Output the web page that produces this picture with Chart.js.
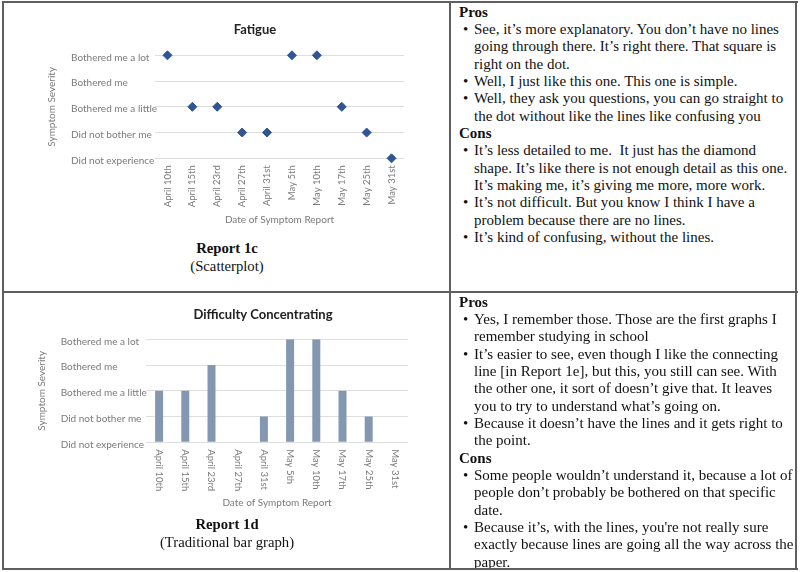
<!DOCTYPE html>
<html lang="en">
<head>
    <meta charset="UTF-8">
    <script src="https://cdn.jsdelivr.net/npm/chart.js@4.4.1/dist/chart.umd.min.js"></script>
    <title>Report 1c and 1d</title>
    <style>
        body { margin: 0; background: #fff; }
        #page { position: relative; width: 800px; height: 572px; overflow: hidden; font-family: 'Liberation Serif', 'Times New Roman', serif; color: #111; }
        .line { position: absolute; background: #5f5f5f; }
        canvas { position: absolute; left: 0; }
        .caption { position: absolute; left: 0; width: 454px; text-align: center; font-size: 14.7px; line-height: 18.5px; }
        .caption b { display: block; }
        .cell { position: absolute; left: 450px; font-size: 15px; line-height: 17.35px; white-space: pre; }
        .hd { font-weight: bold; padding-left: 9px; }
        .li { position: relative; padding-left: 24px; }
        .li::before { content: '\2022'; position: absolute; left: 13px; }
    </style>
</head>
<body>
<div id="page">
    <canvas id="fatigue" width="449" height="235" style="top:0"></canvas>
    <canvas id="concentrating" width="449" height="225" style="top:292px"></canvas>

    <div class="caption" style="top:238.5px"><b>Report 1c</b>(Scatterplot)</div>
    <div class="caption" style="top:514.5px"><b>Report 1d</b>(Traditional bar graph)</div>

    <div class="cell" style="top:3.6px"><div class="hd">Pros</div><div class="li">See, it’s more explanatory. You don’t have no lines
going through there. It’s right there. That square is
right on the dot.</div><div class="li">Well, I just like this one. This one is simple.</div><div class="li">Well, they ask you questions, you can go straight to
the dot without like the lines like confusing you</div><div class="hd">Cons</div><div class="li">It’s less detailed to me.  It just has the diamond
shape. It’s like there is not enough detail as this one.
It’s making me, it’s giving me more, more work.</div><div class="li">It’s not difficult. But you know I think I have a
problem because there are no lines.</div><div class="li">It’s kind of confusing, without the lines.</div></div>

    <div class="cell" style="top:293.6px"><div class="hd">Pros</div><div class="li">Yes, I remember those. Those are the first graphs I
remember studying in school</div><div class="li">It’s easier to see, even though I like the connecting
line [in Report 1e], but this, you still can see. With
the other one, it sort of doesn’t give that. It leaves
you to try to understand what’s going on.</div><div class="li">Because it doesn’t have the lines and it gets right to
the point.</div><div class="hd">Cons</div><div class="li">Some people wouldn’t understand it, because a lot of
people don’t probably be bothered on that specific
date.</div><div class="li">Because it’s, with the lines, you're not really sure
exactly because lines are going all the way across the
paper.</div></div>

    <div class="line" style="left:2px; top:1px; width:796px; height:2px"></div>
    <div class="line" style="left:2px; top:568px; width:796px; height:2px"></div>
    <div class="line" style="left:2px; top:1px; width:2px; height:569px"></div>
    <div class="line" style="left:795px; top:1px; width:2px; height:569px"></div>
    <div class="line" style="left:449px; top:1px; width:2px; height:569px"></div>
    <div class="line" style="left:2px; top:291px; width:796px; height:2px"></div>
</div>

<script>
    const dates = ['April 10th', 'April 15th', 'April 23rd', 'April 27th', 'April 31st',
                   'May 5th', 'May 10th', 'May 17th', 'May 25th', 'May 31st'];
    const severity = ['Did not experience', 'Did not bother me', 'Bothered me a little',
                      'Bothered me', 'Bothered me a lot'];
    const fatigue = [4, 2, 2, 1, 1, 4, 4, 2, 1, 0];
    const concentrating = [2, 2, 3, 0, 1, 4, 4, 2, 1, 0];

    const gray = '#7a7a7a';
    Chart.defaults.font.family = 'Lato';
    Chart.defaults.font.size = 10;
    Chart.defaults.color = gray;

    // y axis shared by both charts; labels are mirrored and pulled left so they stay left-aligned
    function severityAxis(width, labelShift, titleShift) {
        return {
            min: 0,
            max: 4,
            border: { display: false },
            grid: { color: '#dedede', drawTicks: false },
            ticks: {
                stepSize: 1,
                mirror: true,
                crossAlign: 'near',
                padding: labelShift,
                labelOffset: 2,
                callback: v => severity[v]
            },
            title: { display: true, text: 'Symptom Severity', padding: { top: titleShift, bottom: 0 } },
            afterFit: axis => { axis.width = width; }
        };
    }

    function chartTitle(text, top, bottom) {
        return {
            display: true,
            text: text,
            color: '#222',
            font: { size: 13, weight: 'bold' },
            padding: { top: top, bottom: bottom }
        };
    }

    new Chart(document.getElementById('fatigue'), {
        type: 'line',
        data: {
            labels: dates,
            datasets: [{
                data: fatigue,
                showLine: false,
                clip: false,
                pointStyle: 'rectRot',
                pointRadius: 4.5,
                pointHoverRadius: 4.5,
                backgroundColor: '#2f5597',
                borderColor: '#2f5597'
            }]
        },
        options: {
            responsive: false,
            animation: false,
            layout: { padding: { left: 106, right: 45, top: 0, bottom: 0 } },
            plugins: {
                legend: { display: false },
                tooltip: { enabled: false },
                title: chartTitle('Fatigue', 22, 17.7)
            },
            scales: {
                x: {
                    offset: true,
                    border: { display: false },
                    grid: { display: false, drawTicks: false },
                    ticks: { minRotation: 90, maxRotation: 90, padding: 7, autoSkip: false, font: { size: 9.5 } },
                    title: { display: true, text: 'Date of Symptom Report', padding: { top: 0, bottom: 9 } },
                    afterFit: axis => { axis.height = 76.7; }
                },
                y: severityAxis(49, -84, -60)
            }
        }
    });

    // Excel turned these labels the other way (reading downwards), Chart.js only rotates upwards
    const downwardTicks = {
        id: 'downwardTicks',
        afterDraw(chart) {
            const xs = chart.scales.x;
            const ctx = chart.ctx;
            ctx.save();
            ctx.font = '9.5px Lato';
            ctx.fillStyle = gray;
            ctx.textAlign = 'left';
            ctx.textBaseline = 'middle';
            xs.ticks.forEach((t, i) => {
                ctx.save();
                ctx.translate(xs.getPixelForTick(i), xs.top + 7);
                ctx.rotate(Math.PI / 2);
                ctx.fillText(xs.getLabelForValue(t.value), 0, 0);
                ctx.restore();
            });
            ctx.restore();
        }
    };

    new Chart(document.getElementById('concentrating'), {
        type: 'bar',
        data: {
            labels: dates,
            datasets: [{
                data: concentrating,
                backgroundColor: '#8497b0',
                categoryPercentage: 1,
                barPercentage: 0.305
            }]
        },
        plugins: [downwardTicks],
        options: {
            responsive: false,
            animation: false,
            layout: { padding: { left: 118, right: 41, top: 0, bottom: 0 } },
            plugins: {
                legend: { display: false },
                tooltip: { enabled: false },
                title: chartTitle('Difficulty Concentrating', 15.2, 16.5)
            },
            scales: {
                x: {
                    border: { display: false },
                    grid: { display: false },
                    ticks: { display: false },
                    title: { display: true, text: 'Date of Symptom Report', padding: { top: 0, bottom: 8 } },
                    afterFit: axis => { axis.height = 74.7; }
                },
                y: severityAxis(28, -85.3, -82)
            }
        }
    });
</script>
</body>
</html>
